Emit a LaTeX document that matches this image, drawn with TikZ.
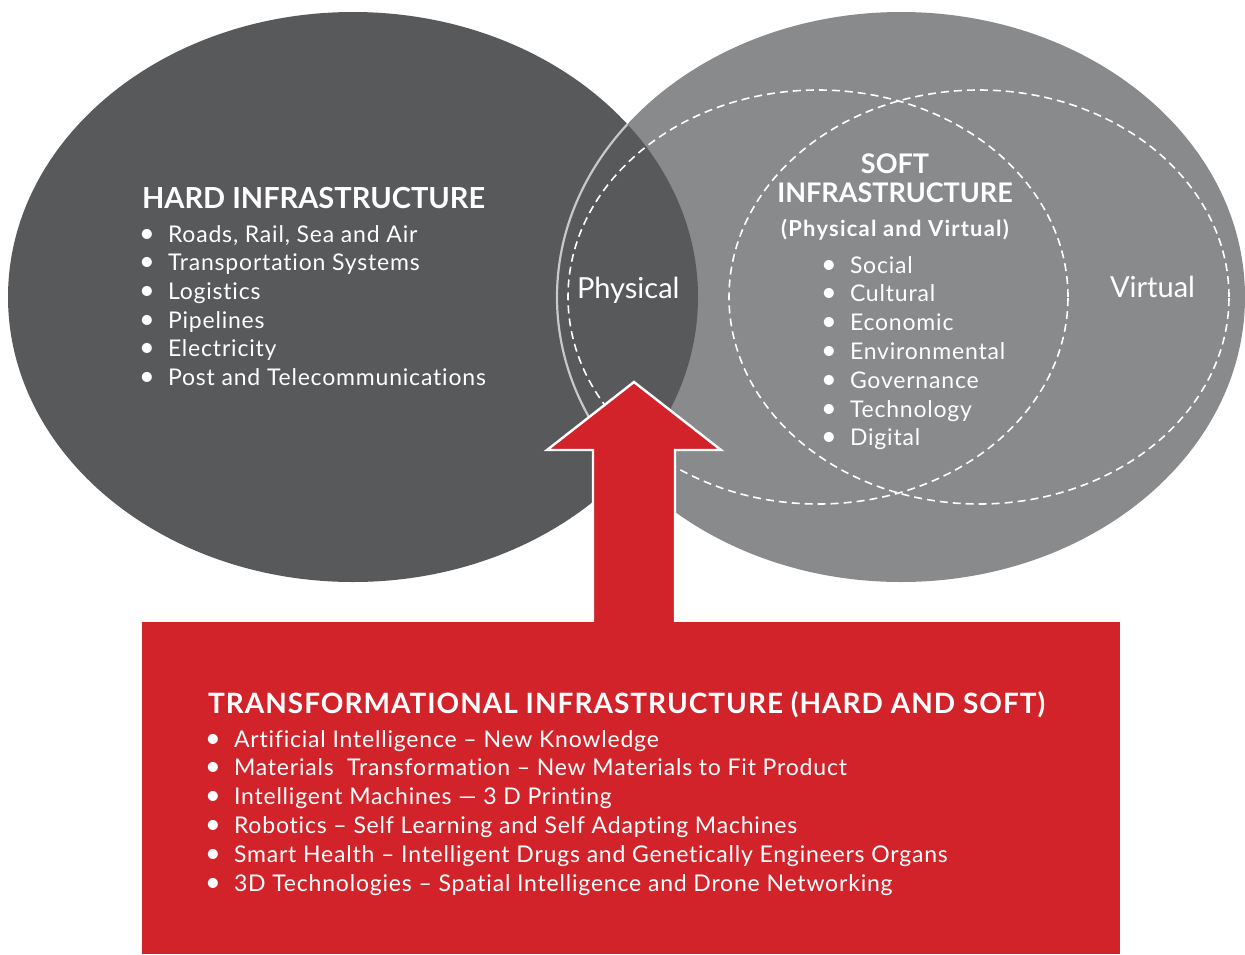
\documentclass[tikz,border=0pt]{standalone}
\usepackage{fontspec}
\setmainfont{Lato}[Ligatures=NoCommon]
\definecolor{hardgray}{HTML}{58595B}
\definecolor{softgray}{HTML}{898A8C}
\definecolor{rimgray}{HTML}{C8C8C9}
\definecolor{tred}{HTML}{D2232A}
\tikzset{
  wtext/.style={text=white, inner sep=0pt, outer sep=0pt},
  listtext/.style={wtext, anchor=base west, font=\fontsize{23}{27}\selectfont\addfontfeature{LetterSpace=3.5}},
  bul/.style={wtext, anchor=base, font=\fontsize{27}{30}\selectfont},
  titletext/.style={wtext, font=\fontsize{29}{33}\selectfont\bfseries},
  dashline/.style={draw=white, line width=1.6pt, dash pattern=on 8pt off 5pt},
}
\begin{document}
\begin{tikzpicture}[x=1pt,y=-1pt]
\useasboundingbox (0,0) rectangle (1245,954);
% ellipses
\fill[softgray] (901,297) ellipse [x radius=344pt, y radius=285pt];
\fill[hardgray] (353,297) ellipse [x radius=345pt, y radius=285pt];
\begin{scope}
  \clip (353,297) ellipse [x radius=345pt, y radius=285pt];
  \draw[rimgray, line width=2.2pt] (901,297) ellipse [x radius=344pt, y radius=285pt];
\end{scope}
% dashed ellipses
\draw[dashline] (818,297) ellipse [x radius=250pt, y radius=207pt];
\draw[dashline] (979,297) ellipse [x radius=250pt, y radius=207pt];
% hard infrastructure
\node[titletext, anchor=base west] (hardt) at (142,208) {HARD INFRASTRUCTURE};
\foreach \t [count=\i] in {{Roads, Rail, Sea and Air},{Transportation Systems},{Logistics},{Pipelines},{Electricity},{Post and Telecommunications}}{
  \node[bul] (hb\i) at (147,{242+28.7*(\i-1)}) {\textbullet};
  \node[listtext] (h\i) at (168,{242+28.7*(\i-1)}) {\t};
}
% physical / virtual
\node[wtext, anchor=base west, font=\fontsize{29}{33}\selectfont] (phys) at (577,298) {Physical};
\node[wtext, anchor=base west, font=\fontsize{29}{33}\selectfont] (virt) at (1110,297) {Virtual};
% soft infrastructure
\node[wtext, anchor=base, font=\fontsize{27}{31}\selectfont\bfseries] (softa) at (895,173) {SOFT};
\node[wtext, anchor=base, font=\fontsize{27}{31}\selectfont\bfseries] (softb) at (895,202) {INFRASTRUCTURE};
\node[wtext, anchor=base, font=\fontsize{22}{26}\selectfont\bfseries\addfontfeature{LetterSpace=5.5}] (softc) at (895,236) {(Physical and Virtual)};
\foreach \t [count=\i] in {Social,Cultural,Economic,Environmental,Governance,Technology,Digital}{
  \node[bul] (sb\i) at (829,{273+28.8*(\i-1)}) {\textbullet};
  \node[listtext] (s\i) at (850,{273+28.8*(\i-1)}) {\t};
}
% arrow
\fill[tred, draw=white, line width=2.4pt, line join=miter]
  (593,640) -- (593,450) -- (547,450) -- (634,382) -- (721,450) -- (675,450) -- (675,640) -- cycle;
\fill[tred] (142,622) rectangle (1120,954);
% transformational
\node[titletext, anchor=base west, font=\fontsize{28}{32}\selectfont\bfseries\addfontfeature{LetterSpace=3.6}] (trt) at (208,713) {TRANSFORMATIONAL INFRASTRUCTURE (HARD AND SOFT)};
\foreach \t [count=\i] in {{Artificial Intelligence – New Knowledge},{Materials\ \ Transformation – New Materials to Fit Product},{Intelligent Machines — 3 D Printing},{Robotics – Self Learning and Self Adapting Machines},{Smart Health – Intelligent Drugs and Genetically Engineers Organs},{3D Technologies – Spatial Intelligence and Drone Networking}}{
  \node[bul] (tb\i) at (213,{747+28.8*(\i-1)}) {\textbullet};
  \node[listtext] (t\i) at (234,{747+28.8*(\i-1)}) {\t};
}
\end{tikzpicture}
\end{document}
